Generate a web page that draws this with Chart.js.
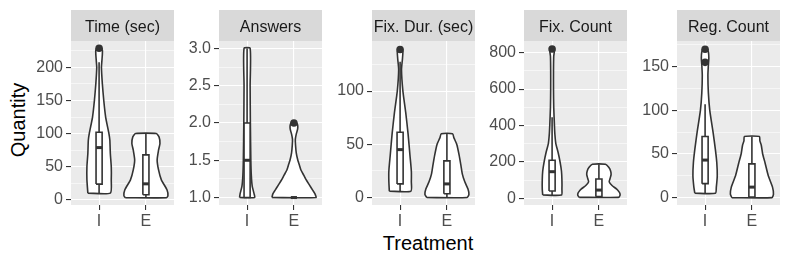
<!DOCTYPE html>
<html>
<head>
<meta charset="utf-8">
<script src="https://cdn.jsdelivr.net/npm/chart.js@4.4.0/dist/chart.umd.min.js"></script>
<style>
  body { margin: 0; background: #fff; }
  #wrap { position: relative; width: 793px; height: 264px; overflow: hidden; font-family: "Liberation Sans", Arial, sans-serif; }
  #wrap canvas { position: absolute; top: 0; }
  .ytitle { position: absolute; left: 18px; top: 120px; transform: translate(-50%, -50%) rotate(-90deg); font-size: 20px; line-height: 1; white-space: nowrap; color: #000; }
  .xtitle { position: absolute; left: 428px; top: 232px; transform: translateX(-50%); font-size: 20px; white-space: nowrap; color: #000; }
</style>
</head>
<body>
<div id="wrap">
  <div class="ytitle">Quantity</div>
  <div class="xtitle">Treatment</div>
</div>
<script>
// groups on the x axis of every facet
const treatments = ['I', 'E'];
const facetNames = ['Time (sec)', 'Answers', 'Fix. Dur. (sec)', 'Fix. Count', 'Reg. Count'];

// tick labels per facet
const timeTicks = [0, 50, 100, 150, 200];
const answersTicks = [1.0, 1.5, 2.0, 2.5, 3.0];
const fixDurTicks = [0, 50, 100];
const fixCountTicks = [0, 200, 400, 600, 800];
const regCountTicks = [0, 50, 100, 150];

// violin outlines: values and half width of the density (in group units)
// box: [lower whisker, q1, median, q3, upper whisker]
const timeI_y = [10, 30, 50, 70, 90, 100, 125, 150, 175, 200, 210, 220, 226, 229];
const timeI_w = [0.24, 0.26, 0.26, 0.24, 0.23, 0.21, 0.14, 0.10, 0.07, 0.05, 0.06, 0.07, 0.07, 0.04];
const timeI_box = [10, 23.6, 78.8, 102, 208];
const timeI_out = [229];
const timeE_y = [3, 6, 15, 30, 45, 60, 75, 85, 95, 100];
const timeE_w = [0.44, 0.47, 0.45, 0.33, 0.27, 0.24, 0.27, 0.30, 0.28, 0.22];
const timeE_box = [3, 7.5, 24, 67.8, 100];
const timeE_out = [];

const answersI_y = [1.0, 1.05, 1.15, 1.3, 1.5, 2.0, 2.5, 3.0];
const answersI_w = [0.16, 0.15, 0.11, 0.09, 0.08, 0.07, 0.065, 0.065];
const answersI_box = [1, 1, 1.5, 2, 3];
const answersI_out = [];
const answersE_y = [1.0, 1.05, 1.1, 1.17, 1.24, 1.3, 1.37, 1.45, 1.51, 1.6, 1.7, 1.78, 1.85, 1.92, 1.97, 2.0];
const answersE_w = [0.47, 0.45, 0.40, 0.33, 0.26, 0.21, 0.15, 0.11, 0.08, 0.05, 0.035, 0.03, 0.05, 0.08, 0.08, 0.06];
const answersE_box = [1, 1, 1, 1, 1];
const answersE_out = [2];

const fixDurI_y = [6, 15, 25, 40, 60, 80, 100, 120, 130, 137, 139];
const fixDurI_w = [0.23, 0.24, 0.24, 0.21, 0.17, 0.12, 0.06, 0.03, 0.05, 0.06, 0.04];
const fixDurI_box = [6, 12.8, 45, 61.3, 127.5];
const fixDurI_out = [139];
const fixDurE_y = [0, 3, 8, 15, 22, 30, 40, 50, 56, 60];
const fixDurE_w = [0.43, 0.47, 0.45, 0.38, 0.33, 0.30, 0.26, 0.21, 0.15, 0.12];
const fixDurE_box = [0, 3.6, 12.8, 34.4, 60];
const fixDurE_out = [];

const fixCountI_y = [18, 50, 100, 150, 200, 250, 300, 350, 400, 500, 600, 700, 780, 810, 820];
const fixCountI_w = [0.20, 0.21, 0.21, 0.20, 0.17, 0.13, 0.08, 0.06, 0.05, 0.035, 0.03, 0.03, 0.035, 0.05, 0.04];
const fixCountI_box = [18, 40, 146, 209, 445];
const fixCountI_out = [820];
const fixCountE_y = [5, 15, 25, 35, 50, 70, 90, 110, 130, 150, 170, 187];
const fixCountE_w = [0.42, 0.45, 0.45, 0.43, 0.38, 0.28, 0.22, 0.24, 0.26, 0.25, 0.21, 0.14];
const fixCountE_box = [5, 9, 45, 106, 187];
const fixCountE_out = [];

const regCountI_y = [5, 12, 25, 40, 55, 75, 100, 120, 140, 152, 160, 167, 170];
const regCountI_w = [0.22, 0.24, 0.26, 0.25, 0.22, 0.17, 0.10, 0.07, 0.06, 0.07, 0.08, 0.07, 0.04];
const regCountI_box = [5, 16, 43, 70, 107];
const regCountI_out = [155, 170];
const regCountE_y = [0, 4, 12, 25, 40, 50, 60, 65, 70];
const regCountE_w = [0.43, 0.46, 0.44, 0.35, 0.28, 0.23, 0.20, 0.17, 0.16];
const regCountE_box = [0, 0.5, 12, 38.6, 70];
const regCountE_out = [];

const FONT = '"Liberation Sans", Arial, Helvetica, sans-serif';
const AXIS_W = 48;
const PANEL_W = 106;

const panels = [
  { name: facetNames[0], left: 71, min: -8, max: 240, ticks: timeTicks, dec: 0,
    groups: [[timeI_y, timeI_w, timeI_box, timeI_out], [timeE_y, timeE_w, timeE_box, timeE_out]] },
  { name: facetNames[1], left: 219, min: 0.9, max: 3.1, ticks: answersTicks, dec: 1,
    groups: [[answersI_y, answersI_w, answersI_box, answersI_out], [answersE_y, answersE_w, answersE_box, answersE_out]] },
  { name: facetNames[2], left: 372, min: -7, max: 147, ticks: fixDurTicks, dec: 0,
    groups: [[fixDurI_y, fixDurI_w, fixDurI_box, fixDurI_out], [fixDurE_y, fixDurE_w, fixDurE_box, fixDurE_out]] },
  { name: facetNames[3], left: 524, min: -37, max: 864, ticks: fixCountTicks, dec: 0,
    groups: [[fixCountI_y, fixCountI_w, fixCountI_box, fixCountI_out], [fixCountE_y, fixCountE_w, fixCountE_box, fixCountE_out]] },
  { name: facetNames[4], left: 677, min: -8.5, max: 179.5, ticks: regCountTicks, dec: 0,
    groups: [[regCountI_y, regCountI_w, regCountI_box, regCountI_out], [regCountE_y, regCountE_w, regCountE_box, regCountE_out]] }
];

// grey panel + facet strip, like ggplot
const stripPlugin = {
  id: 'strip',
  beforeDraw(chart, args, opts) {
    const { ctx, chartArea: a } = chart;
    ctx.save();
    ctx.fillStyle = '#EBEBEB';
    ctx.fillRect(a.left, a.top, a.right - a.left, a.bottom - a.top);
    ctx.fillStyle = '#D9D9D9';
    ctx.fillRect(a.left, 10, a.right - a.left, a.top - 10);
    ctx.fillStyle = '#1A1A1A';
    ctx.font = '16px ' + FONT;
    ctx.textAlign = 'center';
    ctx.textBaseline = 'alphabetic';
    ctx.fillText(opts.text, (a.left + a.right) / 2, 31.5);
    ctx.restore();
  }
};

function violinPoints(c, ys, ws) {
  const pts = [];
  for (let i = 0; i < ys.length; i++) pts.push({ x: c - ws[i], y: ys[i] });
  for (let i = ys.length - 1; i >= 0; i--) pts.push({ x: c + ws[i], y: ys[i] });
  pts.push({ x: pts[0].x, y: pts[0].y });
  return pts;
}

function groupDatasets(c, ys, ws, box, outs) {
  const [lo, q1, med, q3, hi] = box;
  const h = 0.065;
  const line = { borderColor: '#333333', borderWidth: 1.6, pointRadius: 0, fill: false };
  return [
    { ...line, data: violinPoints(c, ys, ws), fill: 'shape', backgroundColor: '#FFFFFF', tension: 0.2, order: 5 },
    { ...line, data: [{ x: c, y: lo }, { x: c, y: q1 }], order: 4 },
    { ...line, data: [{ x: c, y: q3 }, { x: c, y: hi }], order: 4 },
    { ...line, data: [{ x: c - h, y: q1 }, { x: c - h, y: q3 }, { x: c + h, y: q3 }, { x: c + h, y: q1 }, { x: c - h, y: q1 }],
      fill: 'shape', backgroundColor: '#FFFFFF', order: 3 },
    { ...line, data: [{ x: c - h, y: med }, { x: c + h, y: med }], borderWidth: 3, borderCapStyle: 'butt', order: 2 },
    { data: outs.map(v => ({ x: c, y: v })), showLine: false, pointRadius: 3.8, pointBackgroundColor: '#333333',
      pointBorderWidth: 0, order: 1 }
  ];
}

function makePanel(p) {
  const canvas = document.createElement('canvas');
  canvas.width = AXIS_W + PANEL_W + 1;
  canvas.height = 264;
  canvas.style.left = (p.left - AXIS_W) + 'px';
  document.getElementById('wrap').appendChild(canvas);

  // major ticks plus the minor ones in between
  const step = p.ticks[1] - p.ticks[0];
  const all = [];
  for (let v = p.ticks[0] - step / 2; v <= p.max; v += step / 2) {
    if (v >= p.min) all.push(+v.toFixed(4));
  }
  const isMajor = v => p.ticks.some(t => Math.abs(t - v) < 1e-6);

  let datasets = [];
  p.groups.forEach((g, i) => { datasets = datasets.concat(groupDatasets(i + 1, g[0], g[1], g[2], g[3])); });

  new Chart(canvas, {
    type: 'scatter',
    data: { datasets },
    options: {
      responsive: false,
      animation: false,
      devicePixelRatio: 1,
      showLine: true,
      events: [],
      layout: { padding: { top: 41, right: 1, left: 0, bottom: 0 } },
      plugins: { legend: { display: false }, tooltip: { enabled: false }, strip: { text: p.name } },
      scales: {
        x: {
          type: 'linear', min: 0.4, max: 2.6,
          afterFit(s) { s.height = 264 - 205; },
          afterBuildTicks(s) { s.ticks = treatments.map((t, i) => ({ value: i + 1 })); },
          ticks: { autoSkip: false, maxRotation: 0, padding: 2, color: '#4D4D4D', font: { size: 16, family: FONT },
            callback: v => treatments[v - 1] },
          grid: { color: '#FFFFFF', lineWidth: 1.1, tickColor: '#333333', tickLength: 5, tickWidth: 1.1 },
          border: { display: false }
        },
        y: {
          min: p.min, max: p.max,
          afterFit(s) { s.width = AXIS_W; },
          afterBuildTicks(s) { s.ticks = all.map(v => ({ value: v })); },
          ticks: { autoSkip: false, padding: 3, color: '#4D4D4D', font: { size: 16, family: FONT },
            callback: v => isMajor(v) ? v.toFixed(p.dec) : '' },
          grid: {
            color: '#FFFFFF',
            lineWidth: ctx => isMajor(ctx.tick.value) ? 1.1 : 0.55,
            tickColor: ctx => isMajor(ctx.tick.value) ? '#333333' : 'rgba(0,0,0,0)',
            tickLength: 5, tickWidth: 1.1
          },
          border: { display: false }
        }
      }
    },
    plugins: [stripPlugin]
  });
}

panels.forEach(makePanel);
</script>
</body>
</html>
